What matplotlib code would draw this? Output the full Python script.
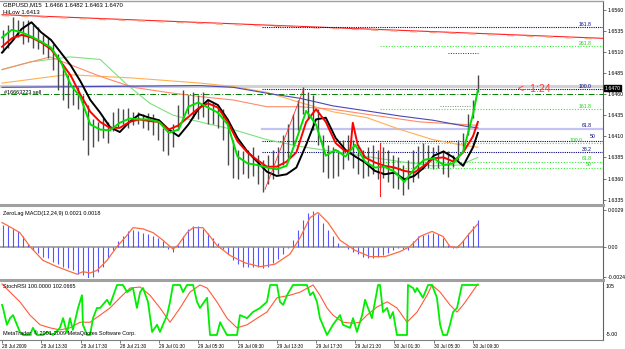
import numpy as np
import matplotlib
matplotlib.use("Agg")
import matplotlib.pyplot as plt
from matplotlib.lines import Line2D

plt.rcParams['font.family'] = ['Liberation Sans', 'DejaVu Sans']

W, H = 625, 349

# ---------------- data ----------------
price_ticks = [1.6560, 1.6535, 1.6510, 1.6485, 1.6460, 1.6435, 1.6410, 1.6385, 1.6360, 1.6335]
time_labels = ["28 Jul 2009", "28 Jul 13:30", "28 Jul 17:30", "28 Jul 21:30", "29 Jul 01:30",
               "29 Jul 05:30", "29 Jul 09:30", "29 Jul 13:30", "29 Jul 17:30", "29 Jul 21:30",
               "30 Jul 01:30", "30 Jul 05:30", "30 Jul 09:30"]
time_label_bars = [0, 16, 32, 48, 64, 80, 96, 112, 128, 144, 160, 176, 192]

# price bars, each sample covers about two 15-minute bars
SAMPLE_BARS = 2.04
bar_high = [1.6536, 1.6542, 1.6551, 1.6548, 1.6546, 1.6548, 1.6542, 1.6539, 1.6530, 1.6527,
            1.6519, 1.6507, 1.6495, 1.6483, 1.6471, 1.6468, 1.6459, 1.6447, 1.6430, 1.6427,
            1.6432, 1.6427, 1.6439, 1.6444, 1.6442, 1.6444, 1.6439, 1.6439, 1.6436, 1.6438,
            1.6436, 1.6430, 1.6420, 1.6418, 1.6424, 1.6447, 1.6465, 1.6459, 1.6463, 1.6459,
            1.6462, 1.6453, 1.6450, 1.6447, 1.6442, 1.6424, 1.6406, 1.6394, 1.6392, 1.6394,
            1.6397, 1.6388, 1.6382, 1.6388, 1.6394, 1.6397, 1.6412, 1.6424, 1.6436, 1.6453,
            1.6468, 1.6463, 1.6459, 1.6442, 1.6412, 1.6400, 1.6397, 1.6394, 1.6406, 1.6412,
            1.6406, 1.6397, 1.6394, 1.6397, 1.6400, 1.6394, 1.6397, 1.6394, 1.6388, 1.6385,
            1.6376, 1.6382, 1.6394, 1.6398, 1.6402, 1.6400, 1.6397, 1.6400, 1.6394, 1.6392,
            1.6388, 1.6406, 1.6414, 1.6436, 1.6453, 1.6482]
bar_low = [1.6510, 1.6515, 1.6524, 1.6527, 1.6519, 1.6522, 1.6515, 1.6513, 1.6507, 1.6503,
           1.6489, 1.6465, 1.6453, 1.6444, 1.6447, 1.6442, 1.6406, 1.6388, 1.6397, 1.6404,
           1.6408, 1.6402, 1.6416, 1.6420, 1.6424, 1.6420, 1.6423, 1.6424, 1.6420, 1.6418,
           1.6412, 1.6406, 1.6392, 1.6388, 1.6397, 1.6418, 1.6432, 1.6436, 1.6432, 1.6430,
           1.6433, 1.6424, 1.6424, 1.6420, 1.6406, 1.6376, 1.6361, 1.6359, 1.6365, 1.6361,
           1.6363, 1.6353, 1.6344, 1.6353, 1.6359, 1.6365, 1.6376, 1.6382, 1.6400, 1.6418,
           1.6436, 1.6430, 1.6418, 1.6400, 1.6368, 1.6361, 1.6361, 1.6363, 1.6371, 1.6382,
           1.6373, 1.6365, 1.6361, 1.6363, 1.6365, 1.6359, 1.6361, 1.6356, 1.6349, 1.6347,
           1.6340, 1.6347, 1.6356, 1.6361, 1.6371, 1.6373, 1.6371, 1.6373, 1.6365, 1.6362,
           1.6374, 1.6382, 1.6391, 1.6412, 1.6432, 1.6463]

ma_bars = list(range(0, 193, 4)) + [194]
ma_fast = [1.6527, 1.6536, 1.6533, 1.6528, 1.6522, 1.6515, 1.6498, 1.6471, 1.6456, 1.6424,
           1.6418, 1.6417, 1.6426, 1.6431, 1.6430, 1.6430, 1.6427, 1.6414, 1.6418, 1.6445,
           1.6450, 1.6444, 1.6438, 1.6424, 1.6386, 1.6378, 1.6376, 1.6373, 1.6371, 1.6375,
           1.6406, 1.6440, 1.6424, 1.6387, 1.6394, 1.6386, 1.6400, 1.6380, 1.6373, 1.6374,
           1.6368, 1.6356, 1.6371, 1.6382, 1.6384, 1.6376, 1.6378, 1.6392, 1.6436, 1.6465]
ma_slow = [1.6509, 1.6522, 1.6537, 1.6545, 1.6533, 1.6524, 1.6509, 1.6494, 1.6475, 1.6453,
           1.6438, 1.6421, 1.6415, 1.6427, 1.6436, 1.6432, 1.6429, 1.6418, 1.6410, 1.6424,
           1.6442, 1.6453, 1.6447, 1.6430, 1.6408, 1.6392, 1.6380, 1.6368, 1.6363, 1.6365,
           1.6373, 1.6400, 1.6430, 1.6432, 1.6408, 1.6394, 1.6386, 1.6379, 1.6369, 1.6365,
           1.6367, 1.6359, 1.6363, 1.6373, 1.6387, 1.6392, 1.6385, 1.6375, 1.6397, 1.6414]
mid_bars = [0, 4, 8, 12, 16, 20, 24, 28, 32, 36, 40, 44, 48, 52, 56, 60, 64, 68, 72, 76,
            80, 84, 88, 92, 96, 100, 104, 108, 112, 116, 120, 124, 128, 132, 136, 140,
            142, 143, 145, 148, 152, 156, 160, 164, 168, 172, 176, 180, 184, 188, 192, 194]
ma_mid = [1.6516, 1.6526, 1.6530, 1.6527, 1.6521, 1.6513, 1.6498, 1.6482, 1.6459, 1.6439,
          1.6427, 1.6420, 1.6420, 1.6427, 1.6430, 1.6428, 1.6427, 1.6418, 1.6423, 1.6433,
          1.6443, 1.6449, 1.6444, 1.6427, 1.6404, 1.6391, 1.6382, 1.6374, 1.6374, 1.6380,
          1.6391, 1.6427, 1.6442, 1.6427, 1.6402, 1.6392,
          1.6394, 1.6426, 1.6400, 1.6385, 1.6379, 1.6375, 1.6373, 1.6369, 1.6367, 1.6375,
          1.6384, 1.6385, 1.6380, 1.6391, 1.6410, 1.6427]

lg_bars = [0, 11.4, 27.7, 40, 51, 60.3, 69.7, 80.7, 94.2, 108, 121.5, 134.9, 148.8, 162.3, 175.7, 186.7, 194]
lg_vals = [1.6489, 1.6498, 1.6504, 1.6501, 1.6471, 1.6449, 1.6435, 1.6427, 1.6418, 1.6406,
           1.6398, 1.6392, 1.6386, 1.6380, 1.6375, 1.6376, 1.6385]
or_bars = [0, 26.5, 53.4, 80.7, 94.2, 108, 121.5, 134.9, 148.8, 162.3, 175.7, 186.7, 194]
or_vals = [1.6473, 1.6483, 1.6479, 1.6473, 1.6469, 1.6462, 1.6450, 1.6439, 1.6432, 1.6418,
           1.6406, 1.6400, 1.6397]
sa_bars = [0, 19.6, 40, 53.4, 67.3, 80.7, 94.2, 108, 121.5, 134.9, 148.8, 170.4, 194]
sa_vals = [1.6489, 1.6504, 1.6481, 1.6468, 1.6462, 1.6457, 1.6453, 1.6445, 1.6445, 1.6442,
           1.6436, 1.6427, 1.6423]
bl_bars = [0, 40, 80.7, 94.2, 108, 121.5, 134.9, 148.8, 162.3, 175.7, 188.8, 194]
bl_vals = [1.6468, 1.6469, 1.6470, 1.6468, 1.6461, 1.6455, 1.6446, 1.6440, 1.6434, 1.6429,
           1.6422, 1.6420]

bid_price = 1.6470
order_price = 1.6460
trend_pts = [(0, 1.6554), (245, 1.6526)]
fib_navy_start = 106
fib_navy = [("161.8", 1.6539), ("100.0", 1.6466), ("61.8", 1.6419), ("50", 1.6404), ("38.2", 1.6391)]
fib_green_start = 154
fib_green = [("261.8", 1.6517), ("161.8", 1.6442), ("100.0", 1.6402), ("61.8", 1.6380), ("50", 1.6373)]
red_ray = [(107.2, 1.6347), (122.7, 1.6464)]
red_vert = (154.1, 1.6339, 1.6402)
dot_black = (182, 194, 1.6509)
dot_gray = (178.6, 190.8, 1.6446)

macd_hist = [0.0017, 0.0016, 0.0014, 0.0012, 0.0008, 0.0002, -0.0003, -0.0005, -0.0008, -0.0009,
             -0.0012, -0.0014, -0.0016, -0.0017, -0.0019, -0.0022, -0.0023, -0.0025, -0.0024, -0.0020,
             -0.0016, -0.0009, -0.0003, 0.0004, 0.0008, 0.0012, 0.0013, 0.0012, 0.0011, 0.0010,
             0.0008, 0.0007, 0.0004, -0.0002, -0.0004, 0.0001, 0.0008, 0.0014, 0.0016, 0.0016,
             0.0014, 0.0011, 0.0007, 0.0003, -0.0002, -0.0006, -0.0011, -0.0014, -0.0016, -0.0016,
             -0.0016, -0.0016, -0.0017, -0.0016, -0.0013, -0.0010, -0.0006, -0.0001, 0.0005, 0.0013,
             0.0021, 0.0027, 0.0028, 0.0026, 0.0019, 0.0013, 0.0008, 0.0003, 0.0000, -0.0002,
             -0.0004, -0.0006, -0.0008, -0.0009, -0.0009, -0.0008, -0.0007, -0.0005, -0.0003, -0.0001,
             -0.0002, -0.0003, 0.0004, 0.0008, 0.0009, 0.0010, 0.0011, 0.0010, 0.0007, 0.0001,
             -0.0001, 0.0001, 0.0005, 0.0011, 0.0016, 0.0021]
sig_bars = [0, 2.0, 7.3, 11.4, 16.7, 22.4, 26.5, 30.6, 33.0, 35.9, 38.7, 42.8, 46.9, 51.0, 53.4,
            57.5, 61.6, 65.6, 68.5, 69.7, 71.7, 75.4, 77.9, 81.9, 84.8, 87.6, 92.9, 99.1, 105.2,
            111.3, 117.4, 121.5, 125.6, 128.8, 132.9, 137.8, 143.9, 150.0, 156.1, 162.3, 166.3,
            170.4, 175.3, 179.8, 182.6, 185.5, 187.5, 190.8, 194.0]
sig_vals = [0.0019, 0.0017, 0.0011, 0.0000, -0.0011, -0.0016, -0.0019, -0.0022, -0.0020, -0.0021,
            -0.0019, -0.0011, 0.0000, 0.0009, 0.0015, 0.0014, 0.0011, 0.0005, 0.0000, -0.0002,
            0.0001, 0.0011, 0.0015, 0.0015, 0.0008, 0.0001, -0.0007, -0.0013, -0.0016, -0.0014,
            -0.0006, 0.0007, 0.0023, 0.0027, 0.0019, 0.0005, -0.0003, -0.0008, -0.0008, -0.0004,
            0.0000, 0.0008, 0.0012, 0.0008, 0.0000, -0.0001, 0.0003, 0.0011, 0.0018]

k_bars = [0, 0.4, 2.0, 3.3, 4.5, 6.1, 7.3, 8.6, 11.4, 12.6, 14.3, 16.7, 18.3, 20.8, 23.6, 24.9,
          26.5, 27.7, 28.9, 31.0, 32.6, 33.0, 34.7, 35.9, 37.1, 38.7, 40.0, 42.8, 44.0, 46.9,
          49.3, 51.0, 53.4, 55.0, 56.3, 57.5, 59.5, 61.2, 63.2, 64.4, 65.6, 67.3, 68.5, 69.7,
          72.6, 73.8, 75.4, 77.9, 79.5, 80.7, 83.6, 84.8, 87.6, 88.9, 90.1, 91.7, 95.8, 97.0,
          99.9, 102.3, 105.2, 108.0, 109.3, 112.1, 113.3, 114.6, 116.2, 118.6, 121.5, 124.3,
          125.6, 126.8, 128.4, 129.6, 132.5, 134.9, 137.8, 139.0, 141.9, 143.1, 144.7, 146.8,
          148.0, 149.2, 150.8, 153.3, 154.1, 155.3, 157.0, 158.2, 159.4, 161.0, 165.1, 165.5,
          167.6, 168.4, 169.2, 171.6, 173.7, 175.3, 177.3, 178.6, 179.8, 181.4, 182.6, 183.9,
          185.5, 187.5, 194.0]
k_vals = [61, 55, 22, 35, 41, 22, 8, 2, 2, 16, 2, 2, 8, 2, 16, 35,
          6, 35, 12, 55, 80, 22, 2, 2, 35, 55, 55, 71, 61, 100,
          100, 86, 94, 55, 86, 94, 67, 8, 22, 8, 22, 41, 67, 100,
          100, 86, 100, 100, 67, 55, 75, 2, 2, 27, 16, 2, 2, 41,
          35, 47, 55, 67, 100, 100, 67, 61, 80, 100, 100, 100,
          80, 86, 67, 35, 2, 22, 41, 22, 16, 35, 8, 41,
          71, 55, 35, 100, 100, 47, 55, 35, 47, 2, 2, 100,
          94, 86, 94, 75, 100, 100, 75, 22, 2, 2, 22, 47,
          55, 100, 100]
d_bars = [0, 3.3, 7.3, 11.4, 15.5, 19.6, 23.6, 27.7, 31.8, 35.9, 40.0, 44.0, 48.1, 52.2, 56.3,
          60.3, 64.4, 68.5, 72.6, 76.6, 80.7, 83.6, 87.6, 91.7, 95.8, 99.9, 104.0, 108.0, 112.1,
          117.4, 121.5, 126.8, 129.6, 132.5, 134.9, 139.0, 143.1, 145.9, 148.8, 152.9, 157.0,
          161.0, 165.1, 169.2, 173.3, 175.3, 178.6, 182.6, 185.5, 188.0, 190.8, 194.0]
d_vals = [102, 86, 67, 41, 22, 16, 12, 16, 27, 27, 41, 55, 75, 94, 96,
          80, 55, 27, 55, 86, 100, 94, 67, 35, 16, 22, 35, 47, 75,
          80, 86, 100, 80, 55, 41, 27, 25, 27, 41, 57, 67,
          55, 27, 47, 80, 100, 86, 61, 47, 61, 80, 102]

# ---------------- layout helpers ----------------
def fx(x):
    return x / W

def fy(y):
    return 1 - y / H

fig = plt.figure(figsize=(W / 100, H / 100), dpi=100)
fig.patch.set_facecolor("white")

R = 603
ax_p = fig.add_axes([0, fy(203), fx(R), (203 - 2) / H])
ax_m = fig.add_axes([0, fy(278), fx(R), (278 - 206) / H])
ax_s = fig.add_axes([0, fy(340), fx(R), (340 - 281) / H])

XMIN, XMAX = -0.82, 245.0
for ax in (ax_p, ax_m, ax_s):
    ax.set_xlim(XMIN, XMAX)
    ax.set_facecolor("white")
    for s in ("top", "left", "bottom"):
        ax.spines[s].set_visible(False)
    ax.spines["right"].set_color("#606060")
    ax.spines["right"].set_linewidth(0.8)
    ax.yaxis.tick_right()
    ax.tick_params(axis="y", length=2, width=0.5, color="#404040", labelsize=3.8, pad=1.2)
    ax.tick_params(axis="x", bottom=False, labelbottom=False)

# ---------------- price panel ----------------
ax_p.set_ylim(1.6331, 1.6569)
ax_p.set_yticks(price_ticks)
ax_p.set_yticklabels([f"{v:.4f}" for v in price_ticks])

ax_p.axhline(bid_price, color="#d2d2d2", lw=2.2, zorder=1)
ax_p.axhline(order_price, color="#008000", lw=0.7, ls=(0, (6, 2, 1, 2)), zorder=2)

(tx0, ty0), (tx1, ty1) = trend_pts
ax_p.plot([tx0, tx1], [ty0, ty1], color="#ff2020", lw=0.8, zorder=2)
ax_p.plot([tx0, tx1], [ty0 - 0.0001, ty1 - 0.0001], color="#ffa080", lw=1.0,
          ls=(0, (5, 9)), zorder=2)

label_x = {"50": 241.8}
for lab, v in fib_navy:
    if lab == "61.8":
        ax_p.plot([fib_navy_start, XMAX], [v, v], color="#c4c4f2", lw=1.6, zorder=2)
    else:
        ax_p.plot([fib_navy_start, XMAX], [v, v], color="#000080", lw=0.8, ls=(0, (1, 1)), zorder=2)
    yoff = 0.00022 if lab == "50" else 0.00005
    ax_p.text(label_x.get(lab, 240.5), v + yoff, lab, color="#000080", fontsize=3.7,
              ha="right", va="bottom", zorder=6)
for lab, v in fib_green:
    ax_p.plot([fib_green_start, XMAX], [v, v], color="#33ee33", lw=0.8, ls=(0, (1, 1.5)), zorder=2)
    xl = 236.5 if lab == "100.0" else 240.5
    ax_p.text(xl, v + 0.00003, lab, color="#22cc22", fontsize=3.7, ha="right", va="bottom", zorder=6)

ax_p.plot([dot_black[0], dot_black[1]], [dot_black[2]] * 2, color="#303030", lw=0.7, ls=(0, (1, 1.5)))
ax_p.plot([dot_gray[0], dot_gray[1]], [dot_gray[2]] * 2, color="#808080", lw=0.7, ls=(0, (1, 1.5)))

# slow moving averages
ax_p.plot(lg_bars, lg_vals, color="#7ee07e", lw=0.8, zorder=3)
ax_p.plot(or_bars, or_vals, color="#ffb050", lw=0.8, zorder=3)
ax_p.plot(sa_bars, sa_vals, color="#ff8a6a", lw=0.8, zorder=3)
ax_p.plot(bl_bars, bl_vals, color="#4848b8", lw=0.8, zorder=3)

# price bars
cdl_x = np.arange(len(bar_high)) * SAMPLE_BARS + 0.2
ax_p.vlines(cdl_x, bar_low, bar_high, color="#4a4a4a", lw=1.0, zorder=4)

# fast moving averages
ax_p.plot(ma_bars, ma_slow, color="black", lw=1.4, zorder=5)
ax_p.plot(mid_bars, ma_mid, color="#ff0000", lw=1.4, zorder=5)
ax_p.plot(ma_bars, ma_fast, color="#00dd00", lw=1.4, zorder=5)

ax_p.plot([red_ray[0][0], red_ray[1][0]], [red_ray[0][1], red_ray[1][1]], color="#ff3030", lw=0.6, zorder=5)
ax_p.plot([red_vert[0], red_vert[0]], [red_vert[1], red_vert[2]], color="#ff2020", lw=0.8, zorder=5)

fig.text(fx(3), fy(5), "GBPUSD,M15  1.6466 1.6482 1.6463 1.6470", fontsize=4.3, va="center", ha="left")
fig.text(fx(3), fy(13), "HiLow 1.6413", fontsize=4.3, va="center", ha="left")
fig.text(fx(4), fy(92.5), "#16663223 sell", fontsize=4.0, va="center", ha="left")
fig.text(fx(517), fy(89), "<--1:24", fontsize=7.5, color="#ff3a3a", va="center", ha="left")
fig.text(fx(604.5), fy(88), f"{bid_price:.4f}", fontsize=3.8, color="white", va="center", ha="left",
         bbox=dict(boxstyle="square,pad=0.15", fc="black", ec="black"))

# ---------------- MACD panel ----------------
ax_m.set_ylim(-0.0025, 0.00322)
ax_m.vlines(cdl_x, 0, macd_hist, color="#5555ff", lw=0.8, zorder=3)
ax_m.axhline(0, color="#a8a8a8", lw=1.4, zorder=2)
ax_m.plot(sig_bars, sig_vals, color="#ff6a40", lw=0.9, zorder=4)
ax_m.set_yticks([0.0029, 0.0, -0.0024])
ax_m.set_yticklabels(["0.0029", "0.00", "-0.0024"])
fig.text(fx(3), fy(213), "ZeroLag MACD(12,24,9) 0.0021 0.0018", fontsize=4.0, va="center", ha="left")

# ---------------- StochRSI panel ----------------
ax_s.set_ylim(-7.8, 107.8)
ax_s.set_yticks([])
ax_s.plot(d_bars, d_vals, color="#ff5a3a", lw=0.8, zorder=3)
ax_s.plot(k_bars, k_vals, color="#00ee00", lw=1.3, zorder=4)
fig.text(fx(3), fy(286), "StochRSI 100.0000 102.0665", fontsize=4.0, va="center", ha="left")
fig.text(fx(3), fy(333), "MetaTrader, \u00a9 2001-2009 MetaQuotes Software Corp.", fontsize=4.0,
         va="center", ha="left")
fig.text(fx(606), fy(286), "105", fontsize=3.8, va="center", ha="left")
fig.text(fx(606), fy(335), "-5.00", fontsize=3.8, va="center", ha="left")

ax_s.spines["bottom"].set_visible(True)
ax_s.spines["bottom"].set_color("#808080")
ax_s.spines["bottom"].set_linewidth(0.8)
ax_s.set_xticks(time_label_bars)
ax_s.set_xticklabels(time_labels)
ax_s.tick_params(axis="x", bottom=True, labelbottom=True, length=2, width=0.5,
                 color="#404040", labelsize=3.4, pad=0.8)
for lbl in ax_s.get_xticklabels():
    lbl.set_ha("left")

# window separators
for ysep in (204.5, 279.5):
    fig.add_artist(Line2D([0, fx(R)], [fy(ysep), fy(ysep)], color="#a0a0a0", lw=2.2))
fig.add_artist(Line2D([0, fx(R)], [fy(0.7), fy(0.7)], color="#a0a0a0", lw=1.0))

fig.savefig("out.png", dpi=100, facecolor="white")
